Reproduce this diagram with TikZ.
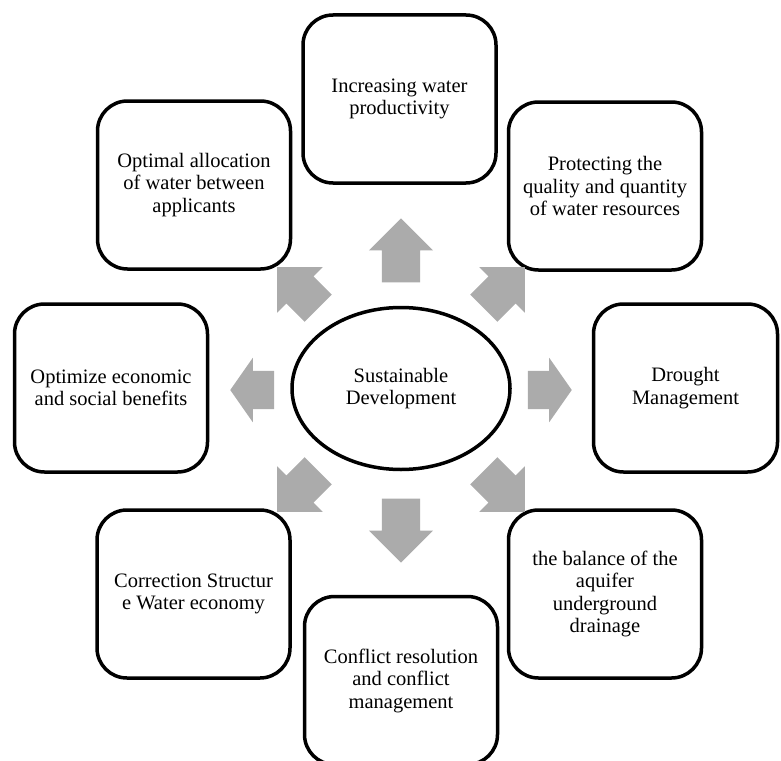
\documentclass[tikz,border=0pt]{standalone}
\usepackage{fontspec}
\setmainfont{Liberation Serif}
\usetikzlibrary{shapes.geometric}
\usetikzlibrary{shapes.arrows}
\definecolor{arrowgray}{RGB}{171,171,171}
\tikzset{
	goalbox/.style={draw=black, line width=3.5pt, rounded corners=30pt, minimum width=193pt, minimum height=168pt, inner sep=0pt, align=center, font=\fontsize{20.5}{22.5}\selectfont},
	hubnode/.style={ellipse, draw=black, line width=3.5pt, minimum width=218pt, minimum height=162pt, inner sep=0pt, align=center, font=\fontsize{20.5}{22.5}\selectfont},
	flow/.style={single arrow, fill=arrowgray, draw=none, anchor=tip, inner xsep=0pt, inner ysep=19pt, single arrow head extend=13pt, minimum height=#1},
	flow/.default=58pt
}

\begin{document}
\begin{tikzpicture}[x=1pt, y=-1pt]
	\useasboundingbox (0, 0) rectangle (781, 760);

	% --- centre ---
	\node[hubnode] (hub) at (401, 388.5) {Sustainable\\Development};

	% --- goals ---
	\node[goalbox] (inc)     at (399.5, 99)  {Increasing water\\productivity};
	\node[goalbox] (prot)    at (605, 186)   {Protecting the\\quality and quantity\\of water resources};
	\node[goalbox, minimum width=184pt] (drought) at (685.5, 388) {Drought\\Management};
	\node[goalbox] (bal)     at (605, 594)   {the balance of the\\aquifer\\underground\\drainage};
	\node[goalbox] (conf)    at (401, 680.5) {Conflict resolution\\and conflict\\management};
	\node[goalbox] (corr)    at (193.5, 594) {Correction Structur\\e Water economy};
	\node[goalbox] (econ)    at (111, 388)   {Optimize economic\\and social benefits};
	\node[goalbox] (opt)     at (194, 185)   {Optimal allocation\\of water between\\applicants};

	% --- arrows ---
	\node[flow=64pt, rotate=90]   (toinc)     at (401, 218) {};
	\node[flow, rotate=45]        (toprot)    at (525, 267) {};
	\node[flow=44pt, single arrow tip angle=110, rotate=0]   (todrought) at (572, 390) {};
	\node[flow, rotate=-45]       (tobal)     at (525, 512) {};
	\node[flow=64pt, rotate=-90]  (toconf)    at (401, 563) {};
	\node[flow, rotate=-135]      (tocorr)    at (277, 512) {};
	\node[flow=44pt, single arrow tip angle=110, rotate=180] (toecon)    at (230, 390) {};
	\node[flow, rotate=135]       (toopt)     at (277, 267) {};
\end{tikzpicture}
\end{document}
